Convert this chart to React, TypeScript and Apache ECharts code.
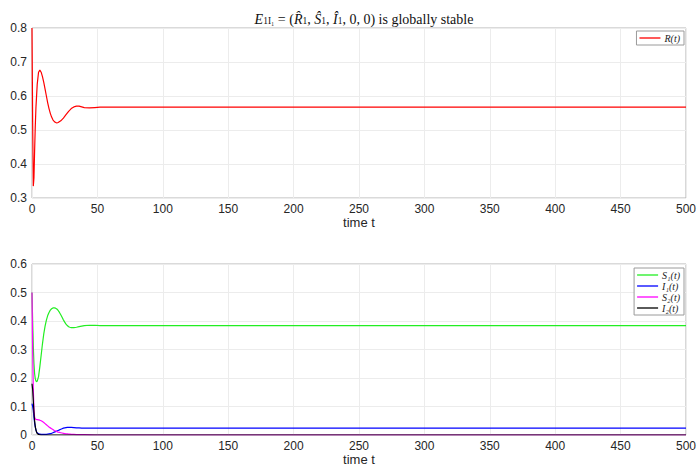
import React, { useEffect, useRef } from "react";
import * as echarts from "echarts";

// ---------- data ----------
const tTop = [0, 0.5, 1, 1.5, 2, 2.5, 3, 4, 5, 6, 7, 8, 9, 10, 11, 12, 13, 14, 15, 16, 17, 18, 19, 20, 22, 24, 26, 28, 30, 32, 34, 36, 38, 40, 44, 48, 52, 60, 100, 500];
const R = [0.80, 0.52, 0.335, 0.36, 0.44, 0.51, 0.565, 0.635, 0.67, 0.676, 0.670, 0.657, 0.640, 0.620, 0.600, 0.580, 0.563, 0.549, 0.538, 0.530, 0.525, 0.522, 0.521, 0.522, 0.527, 0.535, 0.545, 0.555, 0.563, 0.568, 0.570, 0.570, 0.568, 0.566, 0.565, 0.566, 0.567, 0.567, 0.567, 0.567];

const tBottom = [0, 0.5, 1, 1.5, 2, 2.5, 3, 3.5, 4, 5, 6, 7, 8, 9, 10, 11, 12, 13, 14, 15, 16, 17, 18, 19, 20, 21, 22, 23, 24, 25, 26, 27, 28, 29, 30, 32, 34, 36, 38, 40, 44, 48, 52, 60, 100, 500];
const S1 = [0.50, 0.40, 0.31, 0.25, 0.215, 0.198, 0.19, 0.187, 0.189, 0.205, 0.24, 0.28, 0.32, 0.355, 0.382, 0.403, 0.419, 0.43, 0.438, 0.443, 0.446, 0.446, 0.445, 0.442, 0.437, 0.43, 0.422, 0.413, 0.404, 0.396, 0.389, 0.384, 0.38, 0.378, 0.377, 0.377, 0.378, 0.38, 0.382, 0.384, 0.385, 0.385, 0.384, 0.384, 0.384, 0.384];
const I1 = [0.11, 0.10, 0.085, 0.062, 0.042, 0.028, 0.018, 0.011, 0.008, 0.004, 0.003, 0.002, 0.002, 0.002, 0.002, 0.002, 0.003, 0.004, 0.005, 0.006, 0.008, 0.010, 0.012, 0.014, 0.016, 0.018, 0.020, 0.022, 0.024, 0.025, 0.026, 0.027, 0.027, 0.027, 0.027, 0.026, 0.025, 0.025, 0.024, 0.024, 0.024, 0.024, 0.024, 0.024, 0.024, 0.024];
const S2 = [0.50, 0.30, 0.16, 0.09, 0.062, 0.057, 0.055, 0.055, 0.054, 0.053, 0.052, 0.050, 0.047, 0.044, 0.040, 0.036, 0.032, 0.028, 0.025, 0.022, 0.019, 0.016, 0.014, 0.012, 0.010, 0.009, 0.008, 0.007, 0.006, 0.005, 0.004, 0.004, 0.003, 0.003, 0.002, 0.002, 0.001, 0.001, 0.001, 0.001, 0.0005, 0, 0, 0, 0, 0];
const I2 = [0.18, 0.16, 0.12, 0.08, 0.05, 0.03, 0.018, 0.01, 0.005, 0.002, 0.001, 0, 0, 0, 0, 0, 0, 0, 0, 0, 0, 0, 0, 0, 0, 0, 0, 0, 0, 0, 0, 0, 0, 0, 0, 0, 0, 0, 0, 0, 0, 0, 0, 0, 0, 0];

const xTicks = { min: 0, max: 500, interval: 50 };
const topY = { min: 0.3, max: 0.8, interval: 0.1 };
const botY = { min: 0, max: 0.6, interval: 0.1 };

const sans = "'Liberation Sans', Arial, Helvetica, sans-serif";
const serif = "'Liberation Serif', 'DejaVu Serif', serif";

export default function App() {
  const ref = useRef<HTMLDivElement>(null);
  useEffect(() => {
    if (!ref.current) return;
    const chart = echarts.init(ref.current, null, { renderer: "svg" });
    const pair = (ts: number[], vs: number[]) => ts.map((t, i) => [t, vs[i]]);
    const gridLine = { show: true, lineStyle: { color: "#ececec", width: 1 } };
    const fmt = (v: number) => String(+v.toFixed(1));
    const xAxisBase = (gridIndex: number) => ({
      type: "value",
      gridIndex,
      ...xTicks,
      name: "time t",
      nameLocation: "middle",
      nameGap: 18,
      nameTextStyle: { fontFamily: sans, fontSize: 13, color: "#262626" },
      axisLine: { show: false },
      axisTick: { show: false },
      axisLabel: { fontFamily: sans, fontSize: 12, color: "#262626", margin: 5, formatter: fmt },
      splitLine: gridLine,
    });
    const yAxisBase = (gridIndex: number, r: any) => ({
      type: "value",
      gridIndex,
      ...r,
      axisLine: { show: false },
      axisTick: { show: false },
      axisLabel: { fontFamily: sans, fontSize: 12, color: "#262626", margin: 5, formatter: fmt },
      splitLine: gridLine,
    });
    const line = (name: string, xi: number, data: number[][], color: string) => ({
      name,
      type: "line",
      xAxisIndex: xi,
      yAxisIndex: xi,
      data,
      symbol: "none",
      smooth: false,
      lineStyle: { color, width: 1.2 },
      itemStyle: { color },
    });
    const legendBase = {
      orient: "vertical",
      right: 15,
      icon: "rect",
      itemWidth: 21,
      itemHeight: 1.3,
      itemGap: 1,
      padding: [2, 4, 2, 3],
      borderColor: "#9a9a9a",
      borderWidth: 1,
      backgroundColor: "#ffffff",
      textStyle: { fontFamily: serif, fontStyle: "italic", fontSize: 10, lineHeight: 10, color: "#222", padding: [0, 0, 0, -1] },
    };
    chart.setOption({
      animation: false,
      backgroundColor: "#ffffff",
      title: {
        text:
          "{i|E}{s|1I₁}{n| = (}{i|R̂}{s|1}{n|, }{i|Ŝ}{s|1}{n|, }{i|Î}{s|1}{n|, 0, 0) is globally stable}",
        left: 359,
        textAlign: "center",
        top: 4,
        textStyle: {
          fontWeight: "normal",
          rich: {
            i: { fontFamily: serif, fontStyle: "italic", fontWeight: "normal", fontSize: 14, color: "#111", lineHeight: 17, verticalAlign: "bottom" },
            n: { fontFamily: serif, fontWeight: "normal", fontSize: 14, color: "#111", lineHeight: 17, verticalAlign: "bottom" },
            s: { fontFamily: serif, fontWeight: "normal", fontSize: 9.5, color: "#111", lineHeight: 10, verticalAlign: "bottom", padding: [6, 0, 0, 0] },
          },
        },
      },
      grid: [
        { left: 32, top: 28, right: 11, height: 170, show: true, borderColor: "#b4b4b4", borderWidth: 1, backgroundColor: "transparent" },
        { left: 32, top: 264, right: 11, height: 171, show: true, borderColor: "#b4b4b4", borderWidth: 1, backgroundColor: "transparent" },
      ],
      xAxis: [xAxisBase(0), xAxisBase(1)],
      yAxis: [yAxisBase(0, topY), yAxisBase(1, botY)],
      legend: [
        { ...legendBase, top: 31, data: ["R(t)"] },
        { ...legendBase, top: 268, data: ["S₁(t)", "I₁(t)", "S₂(t)", "I₂(t)"] },
      ],
      series: [
        line("R(t)", 0, pair(tTop, R), "#ff0000"),
        line("S₁(t)", 1, pair(tBottom, S1), "#22ee22"),
        line("I₁(t)", 1, pair(tBottom, I1), "#0000ff"),
        line("S₂(t)", 1, pair(tBottom, S2), "#ff00ff"),
        line("I₂(t)", 1, pair(tBottom, I2), "#000000"),
      ],
    });
    return () => chart.dispose();
  }, []);
  return <div ref={ref} style={{ width: 699, height: 468, position: "absolute", left: 0, top: 0 }} />;
}
